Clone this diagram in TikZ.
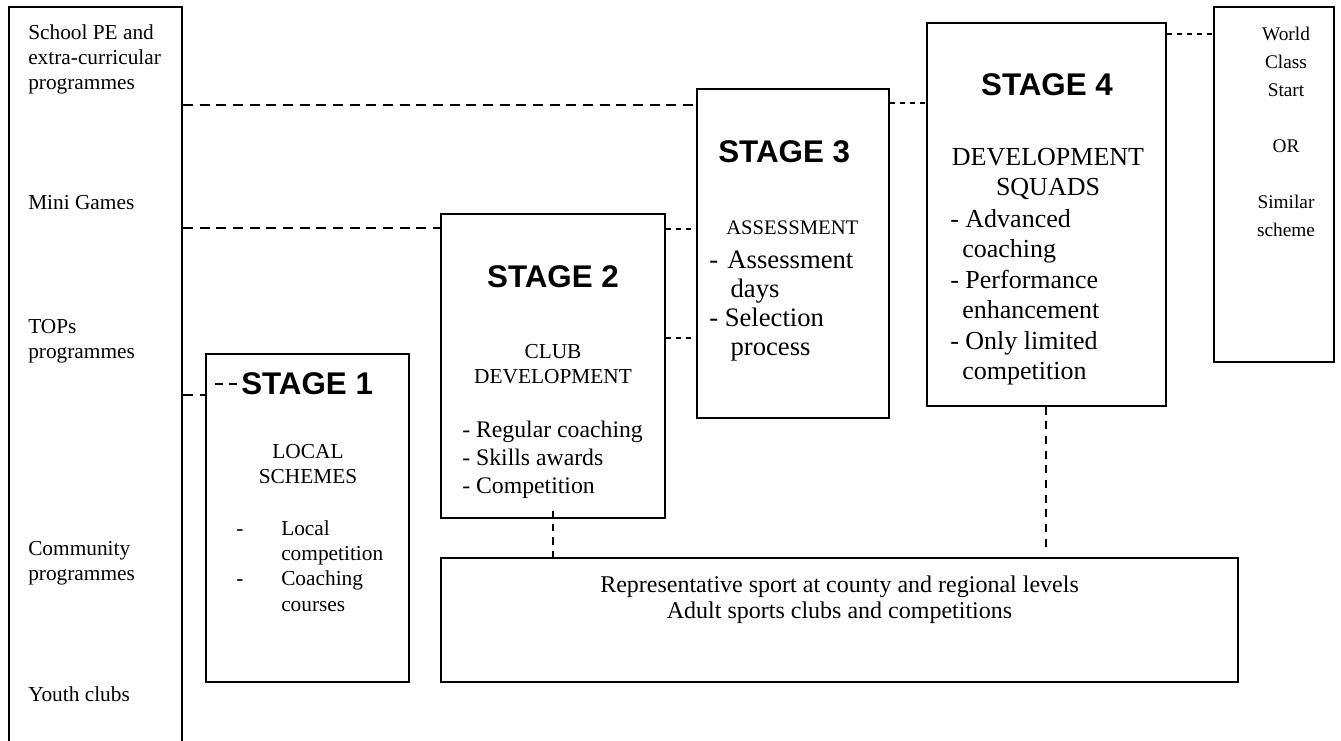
\documentclass[tikz,border=0pt]{standalone}
\usepackage{fontspec}
\setmainfont{Liberation Serif}
\newfontfamily\arialf{Liberation Sans}
\usetikzlibrary{fit}
\newcommand\setfs[2]{\fontsize{#1}{#2}\selectfont}
\begin{document}
\begin{tikzpicture}[x=0.75pt,y=-0.75pt,
  box/.style={draw, line width=1.1pt, inner sep=0pt},
  txt/.style={inner sep=0pt},
  head/.style={inner sep=0pt, font=\arialf\bfseries\setfs{23.5}{28}},
  longdash/.style={line width=1.1pt, dash pattern=on 7.5pt off 5pt},
  s1dash/.style={line width=1pt, dash pattern=on 6pt off 4pt},
  shortdash/.style={line width=0.9pt, dash pattern=on 4pt off 3.5pt},
  vdash/.style={line width=1.1pt, dash pattern=on 5.5pt off 4.5pt}]
\useasboundingbox (0,0) rectangle (1341,740);
\fill[white] (0,0) rectangle (1341,740);

% boxes
\node[box, line width=1.5pt, fit={(9,7) (182,790)}] (left) {};
\node[box, fit={(206,354) (409,682)}] (s1) {};
\node[box, fit={(441,214) (665,518)}] (s2) {};
\node[box, fit={(697,89) (889,418)}] (s3) {};
\node[box, fit={(927,23) (1166,406)}] (s4) {};
\node[box, line width=1.4pt, fit={(1214,7) (1334,362)}] (wc) {};
\node[box, line width=1.4pt, fit={(441,558) (1238,682)}] (rep) {};

% left labels
\node[txt, anchor=base west] (l1) at (28,39) {\parbox[t]{140pt}{\raggedright\setfs{16}{18.75}School PE and\\extra-curricular\\programmes}};
\node[txt, anchor=base west] (l2) at (28,209) {\setfs{16}{18.75}Mini Games};
\node[txt, anchor=base west] (l3) at (28,333) {\parbox[t]{140pt}{\raggedright\setfs{16}{18.75}TOPs\\programmes}};
\node[txt, anchor=base west] (l4) at (28,555) {\parbox[t]{140pt}{\raggedright\setfs{16}{18.75}Community\\programmes}};
\node[txt, anchor=base west] (l5) at (28,701) {\setfs{16}{18.75}Youth clubs};

% stage 1
\node[head, anchor=base west] (h1) at (241,394) {STAGE 1};
\node[txt, anchor=base] (t1) at (308,458) {\parbox[t]{140pt}{\centering\setfs{16}{18.75}LOCAL\\SCHEMES}};
\node[txt, anchor=base west] (b1) at (236,535) {\parbox[t]{150pt}{\raggedright\setfs{16}{19}\makebox[33.75pt][l]{-}Local\\\hspace*{33.75pt}competition\\\makebox[33.75pt][l]{-}Coaching\\\hspace*{33.75pt}courses}};

% stage 2
\node[head, anchor=base] (h2) at (553,287) {STAGE 2};
\node[txt, anchor=base] (t2) at (553,358) {\parbox[t]{160pt}{\centering\setfs{16}{18.75}CLUB\\DEVELOPMENT}};
\node[txt, anchor=base west] (b2) at (462,437) {\parbox[t]{160pt}{\raggedright\setfs{17.8}{21}- Regular coaching\\- Skills awards\\- Competition}};

% stage 3
\node[head, anchor=base west] (h3) at (718,162) {STAGE 3};
\node[txt, anchor=base west] (t3) at (726,234) {\setfs{15.5}{18}ASSESSMENT};
\node[txt, anchor=base west] (b3) at (709,268) {\parbox[t]{140pt}{\raggedright\setfs{20}{21.75}- \hspace{2pt}Assessment\\\hspace*{16pt}days\\- Selection\\\hspace*{16pt}process}};

% stage 4
\node[head, anchor=base] (h4) at (1047,95) {STAGE 4};
\node[txt, anchor=base] (t4) at (1048,165) {\parbox[t]{175pt}{\centering\setfs{19.5}{22.5}DEVELOPMENT\\SQUADS}};
\node[txt, anchor=base west] (b4) at (950,227) {\parbox[t]{165pt}{\raggedright\setfs{19.5}{22.9}- Advanced\\\hspace*{9pt}coaching\\- Performance\\\hspace*{9pt}enhancement\\- Only limited\\\hspace*{9pt}competition}};

% world class
\node[txt, anchor=base] (t5) at (1286,40) {\parbox[t]{85pt}{\centering\setfs{14.5}{21}World\\Class\\Start\\[21pt]OR\\[21pt]Similar\\scheme}};

% bottom box text
\node[txt, anchor=base] (t6) at (839.5,592) {\parbox[t]{560pt}{\centering\setfs{18}{20}Representative sport at county and regional levels\\Adult sports clubs and competitions}};

% connectors
\draw[longdash] (left.east |- 0,105) -- (s3.west |- 0,105);
\draw[longdash] (left.east |- 0,228) -- (s2.west |- 0,228);
\draw[longdash] (left.east |- 0,395) -- (s1.west |- 0,395);
\draw[s1dash] (s1.west |- 0,384) ++(10,0) -- (h1.west |- 0,384);
\draw[shortdash] (s2.east |- 0,229) -- (s3.west |- 0,229);
\draw[shortdash] (s2.east |- 0,338) -- (s3.west |- 0,338);
\draw[shortdash] (s3.east |- 0,103) -- (s4.west |- 0,103);
\draw[shortdash] (s4.east |- 0,34) -- (wc.west |- 0,34);
\draw[vdash] (s2.south) ++(0,-8) -- (rep.north -| s2.south);
\draw[line width=1.4pt, dash pattern=on 6pt off 5pt] (s4.south -| 1046,0) -- ++(0,141);
\end{tikzpicture}
\end{document}
